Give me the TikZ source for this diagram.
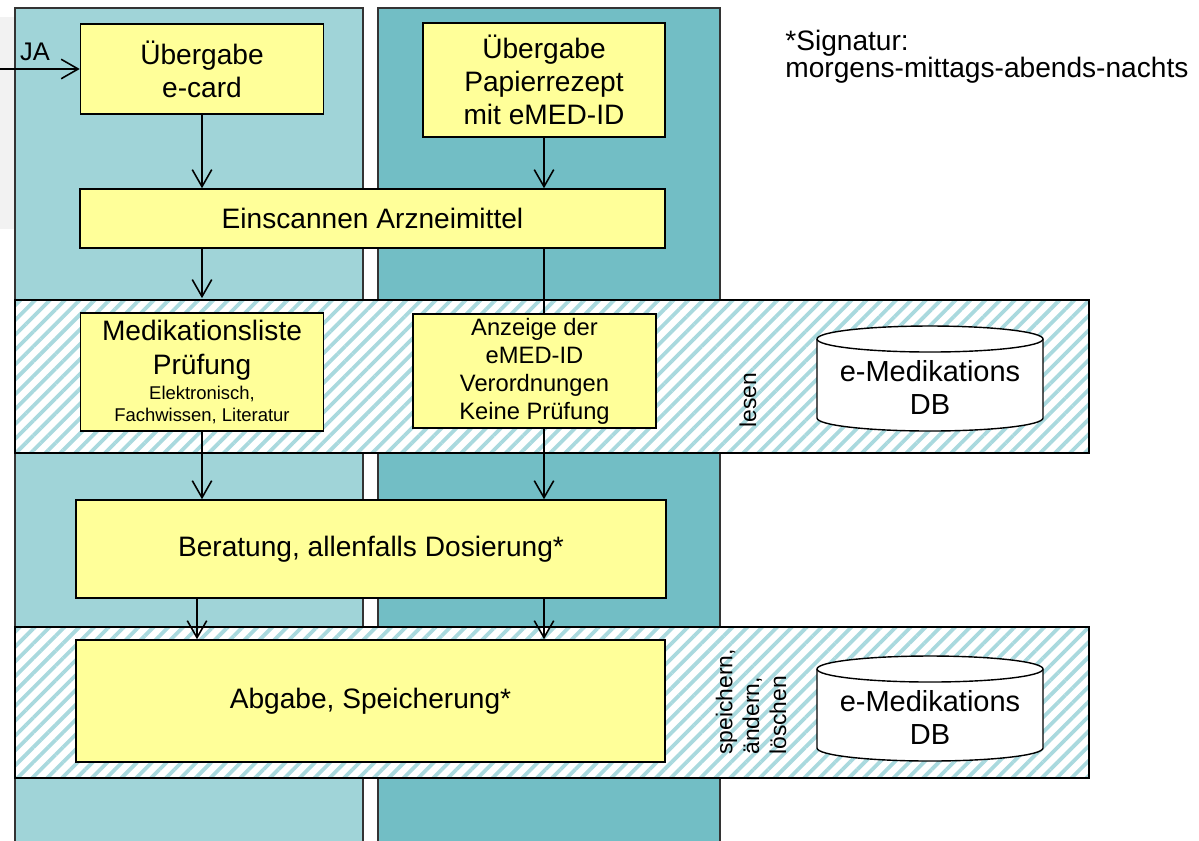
\documentclass[tikz,border=0pt]{standalone}
\usepackage{fontspec}
\setmainfont{Liberation Sans}
\usetikzlibrary{arrows.meta,patterns.meta}
\definecolor{laneone}{HTML}{A0D4D8}
\definecolor{lanetwo}{HTML}{72BEC5}
\definecolor{boxyellow}{HTML}{FFFF99}
\definecolor{hatch}{HTML}{A9D9DE}
\definecolor{greybg}{HTML}{F2F2F2}

\begin{document}
\begin{tikzpicture}[x=0.02cm,y=-0.02cm,
        box/.style={draw,line width=0.9pt,fill=boxyellow,inner sep=0pt,align=center,font=\fontsize{16}{18.8}\selectfont},
        band/.style={draw,line width=0.9pt,inner sep=0pt,preaction={fill=white},pattern={Lines[angle=45,distance=2.1mm,line width=0.75mm]},pattern color=hatch,minimum width=21.48cm},
        arr/.style={line width=0.9pt,-{Straight Barb[length=3.4mm,width=3.9mm]}},
        lane/.style={draw=black!80,line width=0.7pt},
        txt/.style={inner sep=0pt,font=\fontsize{16}{15.5}\selectfont}]
        \useasboundingbox (0,0) rectangle (1199,840);
        \clip (0,0) rectangle (1199,840);
        \fill[greybg] (0,17) rectangle (30,229);
        \draw[lane,fill=laneone] (15,8) rectangle (363,860);
        \draw[lane,fill=lanetwo] (378,8) rectangle (720,860);

        \node[band,minimum height=3.06cm] (lesenband) at (552,376.5) {};
        \node[band,minimum height=3.02cm] (speicherband) at (552,702.5) {};

        \foreach \yt/\yb/\nm in {339/418/dblesen,669/748/dbspeichern}{
            \draw[line width=0.8pt,fill=white] (817,\yt) -- (817,\yb) arc[start angle=180,end angle=0,x radius=113,y radius=13] -- (1043,\yt);
            \draw[line width=0.8pt,fill=white] (930,\yt) ellipse[x radius=113,y radius=13];
            \node[txt,align=center,font=\fontsize{16.5}{19.3}\selectfont] (\nm) at (930,{(\yt+\yb)/2+9}) {e-Medikations\\DB};
        }

        \node[box,minimum width=4.86cm,minimum height=1.8cm] (ecard) at (202,69) {Übergabe\\e-card};
        \node[box,minimum width=4.84cm,minimum height=2.28cm] (rezept) at (544,80) {Übergabe\\Papierrezept\\mit eMED-ID};
        \node[box,minimum width=11.7cm,minimum height=1.18cm] (scan) at (372.5,218.5) {Einscannen Arzneimittel};
        \node[box,minimum width=4.86cm,minimum height=2.36cm] (liste) at (202,372) {Medikationsliste\\[0.5pt]Prüfung\\[-4.6pt]{\fontsize{10.5}{12.5}\selectfont Elektronisch,}\\[-6.3pt]{\fontsize{10.5}{12.5}\selectfont Fachwissen, Literatur}};
        \node[box,minimum width=4.86cm,minimum height=2.28cm,font=\fontsize{13.5}{15.9}\selectfont] (anzeige) at (534.5,371) {Anzeige der\\eMED-ID\\Verordnungen\\Keine Prüfung};
        \node[box,minimum width=11.8cm,minimum height=1.96cm] (beratung) at (371,549) {Beratung, allenfalls Dosierung*};
        \node[box,minimum width=11.78cm,minimum height=2.44cm] (abgabe) at (370.5,701) {Abgabe, Speicherung*};

        \coordinate (jastart) at (0,69);
        \draw[arr] (jastart) -- (ecard);
        \draw[arr] (ecard) -- (ecard |- scan.north);
        \draw[arr] (rezept) -- (rezept |- scan.north);
        \draw[arr] (ecard |- scan.south) -- (ecard |- lesenband.north);
        \draw[line width=0.9pt] (rezept |- scan.south) -- (rezept |- anzeige.north);
        \draw[arr] (ecard |- liste.south) -- (ecard |- beratung.north);
        \draw[arr] (rezept |- anzeige.south) -- (rezept |- beratung.north);
        \draw[arr] ([xshift=-1mm]ecard |- beratung.south) -- ([xshift=-1mm]ecard |- abgabe.north);
        \draw[arr] (rezept |- beratung.south) -- (rezept |- abgabe.north);

        \node[txt,font=\fontsize{14.5}{17}\selectfont] (ja) at (35,51.5) {JA};
        \node[txt,align=left,anchor=west] (signatur) at (785,56.5) {*Signatur:\\morgens-mittags-abends-nachts};
        \node[txt,rotate=90,font=\fontsize{13}{15}\selectfont] (lesen) at (748,400) {lesen};
        \node[txt,rotate=90,anchor=west,align=left,font=\fontsize{13}{15.3}\selectfont] (aendern) at (751,755) {speichern,\\ändern,\\löschen};
    \end{tikzpicture}
\end{document}
